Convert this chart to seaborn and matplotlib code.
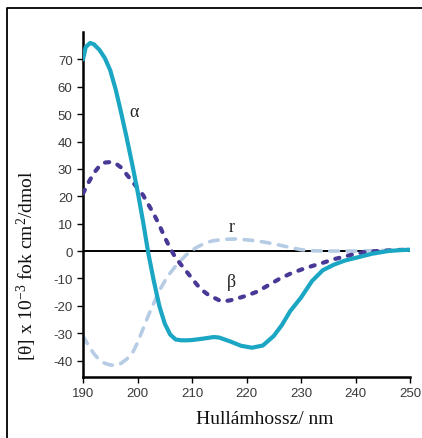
import numpy as np
import pandas as pd
import matplotlib
matplotlib.use("Agg")
import matplotlib.pyplot as plt
import seaborn as sns
from matplotlib.lines import Line2D

# ---- data ----
alpha_x = [190, 190.5, 191.3, 192, 193, 194, 195, 196, 197, 198, 199, 200, 201, 202, 203, 204,
           205, 206, 207, 208, 209, 210, 212, 214, 215, 216, 217, 219, 221, 223, 225, 226.5,
           228, 230, 232, 234, 236, 238, 240, 243, 246, 248, 250]
alpha_y = [70, 74.5, 76, 75.5, 73.5, 70.5, 66, 59, 50.5, 41.5, 32, 22, 11, -1, -11, -20,
           -26.5, -30.5, -32.3, -32.6, -32.6, -32.5, -32, -31.4, -31.6, -32.3, -33, -34.6, -35.3, -34.5, -31, -27,
           -22, -17, -11, -7, -5, -3.5, -2.5, -1, 0, 0.3, 0.5]

beta_x = [190, 191, 192, 193, 194, 195, 196, 197, 198, 199, 200, 201, 202, 203, 204, 205,
          206, 207, 208, 209, 210, 211, 212, 213, 214, 215, 216, 217, 218, 220, 222, 224,
          226, 228, 230, 232, 234, 236, 238, 240, 242, 244, 246, 248, 250]
beta_y = [21, 25, 28.5, 31, 32.3, 32.5, 32, 30.5, 28, 25.5, 23, 20.5, 17, 13.5, 9.5, 5,
          1, -2.5, -5, -7.5, -10, -12.5, -14.5, -16, -17, -18, -18.3, -18, -17.5, -16.3, -14.8, -12.5,
          -10.2, -8.3, -6.8, -5.5, -4.3, -3, -2, -1, -0.3, 0, 0.2, 0.4, 0.5]

coil_x = [190, 191, 192, 193, 194, 195, 196, 197, 198, 199, 200, 201, 202, 203, 204, 205,
          206, 207, 208, 209, 210, 211, 212, 213, 214, 216, 218, 220, 222, 224, 226, 228,
          230, 232, 235, 240, 245, 248, 250]
coil_y = [-31, -34.5, -37.5, -39.8, -41, -41.6, -41.8, -41, -39.5, -37.5, -33.5, -28.5, -23.5, -19, -14.5, -11,
          -8, -5.5, -3.3, -1.3, 0.3, 1.5, 2.5, 3.3, 3.8, 4.3, 4.4, 4.1, 3.7, 3, 2.2, 1.3,
          0.5, 0.1, 0, 0, 0.2, 0.4, 0.5]

x_ticks = [190, 200, 210, 220, 230, 240, 250]
y_ticks = [-40, -30, -20, -10, 0, 10, 20, 30, 40, 50, 60, 70]

labels = {"α": (199.3, 51), "β": (217.3, -11), "r": (217.3, 9)}

sns.set_theme(style="white")
plt.rcParams["axes.unicode_minus"] = False
plt.rcParams["mathtext.fontset"] = "custom"
plt.rcParams["mathtext.rm"] = "Liberation Serif"
plt.rcParams["mathtext.default"] = "rm"

fig = plt.figure(figsize=(4.22, 4.39), dpi=100)
ax = fig.add_axes([83 / 422, 1 - 378 / 439, (410 - 83) / 422, (378 - 33) / 439])

ax.axhline(0, color="black", lw=1.4, zorder=1)

df_c = pd.DataFrame({"x": coil_x, "y": coil_y})
df_b = pd.DataFrame({"x": beta_x, "y": beta_y})
df_a = pd.DataFrame({"x": alpha_x, "y": alpha_y})

sns.lineplot(data=df_c, x="x", y="y", ax=ax, color="#b6cce5", lw=2.6, zorder=2, sort=False)
ax.lines[-1].set_dashes((2.4, 2.4))
ax.lines[-1].set_dash_capstyle("round")
sns.lineplot(data=df_b, x="x", y="y", ax=ax, color="#4a3896", lw=3.0, zorder=3, sort=False)
ax.lines[-1].set_dashes((1.0, 2.1))
ax.lines[-1].set_dash_capstyle("round")
sns.lineplot(data=df_a, x="x", y="y", ax=ax, color="#1ba6c4", lw=3.0, zorder=4, sort=False)
ax.lines[-1].set_solid_capstyle("round")
ax.lines[-1].set_solid_joinstyle("round")

for txt, (lx, ly) in labels.items():
    ax.text(lx, ly, txt, fontsize=13, family="Liberation Serif", color="#222222",
            ha="center", va="center")

ax.set_xlim(190, 250)
ax.set_ylim(-46, 80)
ax.set_xticks(x_ticks)
ax.set_yticks(y_ticks)
ax.set_xlabel("")
ax.set_ylabel("")
for s in ["top", "right"]:
    ax.spines[s].set_visible(False)
for s in ["left", "bottom"]:
    ax.spines[s].set_color("black")
    ax.spines[s].set_linewidth(1.8)
ax.tick_params(axis="both", which="major", direction="out", length=4.5, width=1.0,
               color="black", labelsize=9.5, labelcolor="#3a3a3a", pad=3,
               left=True, bottom=True)
for lab in ax.get_xticklabels() + ax.get_yticklabels():
    lab.set_family("Liberation Sans")

fig.text(265 / 422, 1 - 420 / 439, "Hullámhossz/ nm", fontsize=14,
         family="Liberation Serif", ha="center", va="center", color="#111111")
fig.text(27 / 422, 1 - 266 / 439, r"[θ] x 10$^{-3}$ fok cm$^{2}$/dmol", fontsize=14,
         family="Liberation Serif", rotation=90, ha="center", va="center", color="#111111")

# outer frame (top and left edges visible)
fig.add_artist(Line2D([7 / 422, 7 / 422, 1.0], [0.0, 1 - 9 / 439, 1 - 9 / 439],
                      transform=fig.transFigure, color="black", lw=1.3))

fig.savefig("out.png", dpi=100)
